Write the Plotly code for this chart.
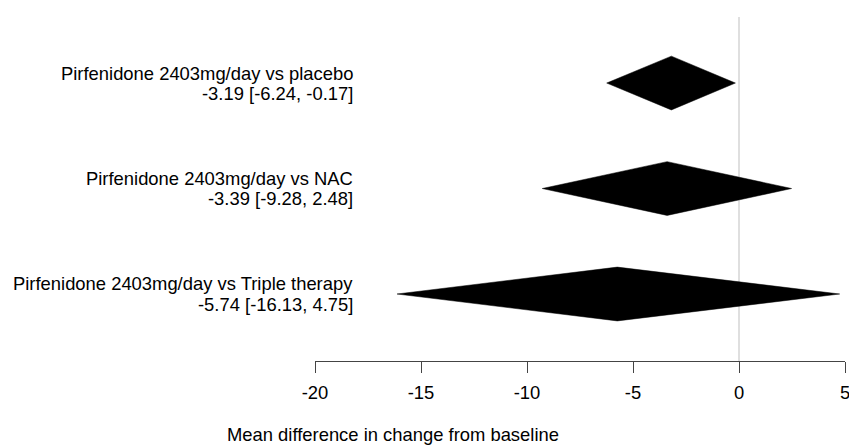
import plotly.graph_objects as go

# Forest plot of mean differences with 95% CI, drawn as diamonds
comparisons = [
    "Pirfenidone 2403mg/day vs placebo",
    "Pirfenidone 2403mg/day vs NAC",
    "Pirfenidone 2403mg/day vs Triple therapy",
]
estimates = [-3.19, -3.39, -5.74]
ci_lower = [-6.24, -9.28, -16.13]
ci_upper = [-0.17, 2.48, 4.75]
x_ticks = [-20, -15, -10, -5, 0, 5]

rows = [3, 2, 1]
half_h = 0.255
line_gap = 0.095
FONT = "Liberation Sans, Arial, Helvetica, sans-serif"
FS = 18.4

fig = go.Figure()

# reference line at zero difference
fig.add_shape(type="line", x0=0, x1=0, y0=0.365, y1=3.626, xref="x", yref="y",
              line=dict(color="#d4d4d4", width=1.5), layer="below")

for name, est, lo, hi, r in zip(comparisons, estimates, ci_lower, ci_upper, rows):
    fig.add_trace(go.Scatter(
        x=[lo, est, hi, est, lo],
        y=[r, r + half_h, r, r - half_h, r],
        mode="lines", fill="toself", fillcolor="black",
        line=dict(color="black", width=0.5), hoverinfo="skip", showlegend=False,
    ))
    for txt, dy in ((name, line_gap), (f"{est:.2f} [{lo:.2f}, {hi:.2f}]", -line_gap)):
        fig.add_annotation(
            x=-18.13, y=r + dy, xref="x", yref="y", xanchor="right", yanchor="middle",
            text=txt, align="right", showarrow=False,
            font=dict(family=FONT, size=FS, color="black"),
        )

fig.add_annotation(
    x=0.147, y=-0.215, xref="paper", yref="paper", xanchor="center", yanchor="middle",
    text="Mean difference in change from baseline", showarrow=False,
    font=dict(family=FONT, size=FS, color="black"),
)

fig.update_xaxes(
    range=[-20, 5], tickvals=x_ticks, ticktext=[str(t) for t in x_ticks],
    showline=True, linecolor="#444444", linewidth=1, ticks="outside", ticklen=11,
    tickcolor="#444444", tickwidth=1, showgrid=False, zeroline=False,
    ticklabelstandoff=4, ticklabeloverflow="allow", automargin=False,
    tickfont=dict(family=FONT, size=FS, color="black"), fixedrange=True,
)
fig.update_yaxes(range=[0.365, 3.626], visible=False, showgrid=False, zeroline=False,
                 fixedrange=True, automargin=False)

fig.update_layout(
    width=849, height=445, margin=dict(l=315, r=4, t=17, b=84, autoexpand=False),
    paper_bgcolor="white", plot_bgcolor="white", showlegend=False,
)

fig.write_html("out.html")
